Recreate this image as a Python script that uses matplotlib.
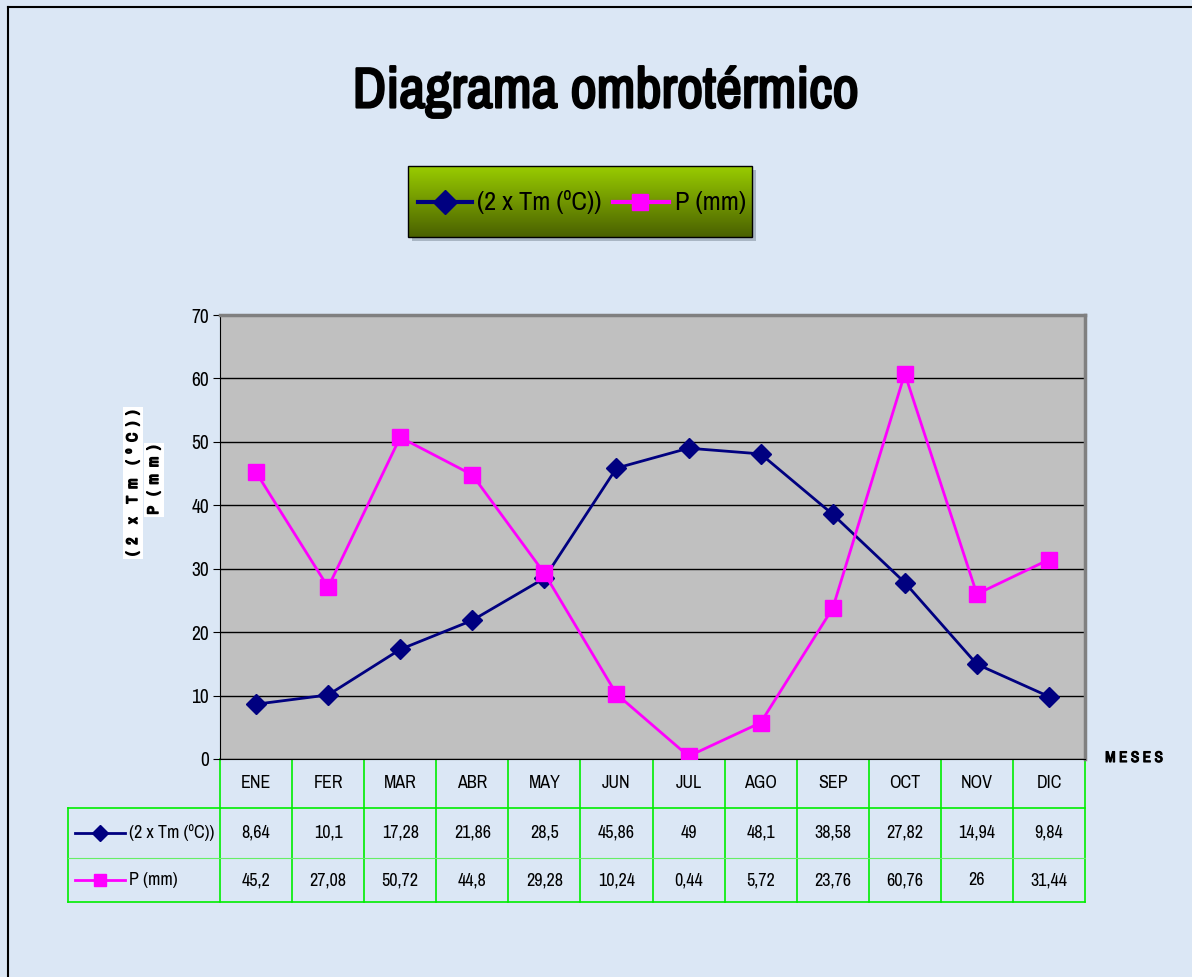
import numpy as np
import matplotlib
matplotlib.use("Agg")
import matplotlib.pyplot as plt
from matplotlib.patches import Rectangle
import matplotlib.patheffects as pe

plt.rcParams['font.family'] = ['Archivo Narrow', 'Liberation Sans', 'DejaVu Sans']

months = ["ENE", "FER", "MAR", "ABR", "MAY", "JUN", "JUL", "AGO", "SEP", "OCT", "NOV", "DIC"]
tm2 = [8.64, 10.1, 17.28, 21.86, 28.5, 45.86, 49, 48.1, 38.58, 27.82, 14.94, 9.84]
prec = [45.2, 27.08, 50.72, 44.8, 29.28, 10.24, 0.44, 5.72, 23.76, 60.76, 26, 31.44]
tm2_labels = ["8,64", "10,1", "17,28", "21,86", "28,5", "45,86", "49", "48,1", "38,58", "27,82", "14,94", "9,84"]
prec_labels = ["45,2", "27,08", "50,72", "44,8", "29,28", "10,24", "0,44", "5,72", "23,76", "60,76", "26", "31,44"]
yticks = [0, 10, 20, 30, 40, 50, 60, 70]
name_t = "(2 x Tm (ºC))"
name_p = "P (mm)"
ylab_t = "(  2    x    T  m    (  º  C  )  )"
ylab_p = "P   (  m  m  )"

W, H = 1192, 977
fig = plt.figure(figsize=(W / 100, H / 100), dpi=100)
fig.patch.set_facecolor('#dbe7f5')

ov = fig.add_axes([0, 0, 1, 1], zorder=0)
ov.axis('off')
ov.patch.set_alpha(0)

ov.plot([8, 8], [H, 7], color='black', lw=1.5)
ov.plot([8, W], [7, 7], color='black', lw=1.5)

def bold(lw):
    return [pe.withStroke(linewidth=lw, foreground='black')]

L, R, T, B = 220, 1085, 315, 759
ax = fig.add_axes([L / W, 1 - B / H, (R - L) / W, (B - T) / H], zorder=2)
ax.set_facecolor('#c0c0c0')
x = np.arange(len(months))
ax.set_xlim(-0.5, len(months) - 0.5)
ax.set_ylim(0, 70)
ax.set_yticks(yticks)
ax.set_yticklabels([str(v) for v in yticks], fontsize=14)
ax.set_xticks([])
ax.grid(axis='y', color='black', lw=1)
ax.set_axisbelow(True)
for s in ['top', 'right']:
    ax.spines[s].set_color('#808080')
    ax.spines[s].set_linewidth(2.5)
ax.spines['left'].set_color('black')
ax.spines['bottom'].set_color('black')
ax.tick_params(axis='y', direction='out', length=5, pad=3)
ax.plot(x, tm2, color='#000080', lw=2, marker='D', markersize=10, zorder=3)
ax.plot(x, prec, color='#ff00ff', lw=2, marker='s', markersize=11, zorder=3)

ov.text(133, 483, ylab_t, rotation=90, ha='center', va='center', fontsize=11,
        path_effects=bold(1.1), bbox=dict(facecolor='white', edgecolor='none', pad=2))
ov.text(154, 480, ylab_p, rotation=90, ha='center', va='center', fontsize=11,
        path_effects=bold(1.1), bbox=dict(facecolor='white', edgecolor='none', pad=2))

ov.text(1134, 758, "M E S E S", ha='center', va='center', fontsize=11, path_effects=bold(0.8))

fig.text(605 / W, 1 - 92 / H, "Diagrama ombrotérmico", ha='center', va='center',
         fontsize=41, path_effects=bold(1.7))

lx0, lx1, ly0, ly1 = 408, 752, 166, 237
grad = np.linspace(0, 1, 100)[:, None]
top = np.array([0.60, 0.80, 0.0])
bot = np.array([0.29, 0.38, 0.0])
img = top[None, None, :] * (1 - grad[:, :, None]) + bot[None, None, :] * grad[:, :, None]
ov.add_patch(Rectangle((lx0 + 4, ly0 + 4), lx1 - lx0, ly1 - ly0, facecolor='#a9b6c4', edgecolor='none', zorder=1))
ov.imshow(img, extent=[lx0, lx1, ly1, ly0], aspect='auto', zorder=2)
ov.add_patch(Rectangle((lx0, ly0), lx1 - lx0, ly1 - ly0, facecolor='none', edgecolor='black', lw=1, zorder=3))
ly = (ly0 + ly1) / 2
ov.plot([418, 472], [ly, ly], color='#000080', lw=3, zorder=4)
ov.plot([445], [ly], marker='D', color='#000080', markersize=12, zorder=4)
ov.text(477, ly + 1, name_t, ha='left', va='center', fontsize=19, zorder=4)
ov.plot([613, 669], [ly, ly], color='#ff00ff', lw=3, zorder=4)
ov.plot([640], [ly], marker='s', color='#ff00ff', markersize=12, zorder=4)
ov.text(675, ly + 1, name_p, ha='left', va='center', fontsize=19, zorder=4)

g = '#00ee00'
n = len(months)
cw = (R - L) / n
r0, r1, r2, r3 = 759, 808, 858, 902
tl = 68
for i in range(n + 1):
    xx = L + i * cw
    ov.plot([xx, xx], [r0, r3], color=g, lw=1.2)
ov.plot([tl, tl], [r1, r3], color=g, lw=1.2)
ov.plot([tl, R], [r1, r1], color=g, lw=1.2)
ov.plot([tl, R], [r2, r2], color='#66ee66', lw=0.8)
ov.plot([tl, R], [r3, r3], color=g, lw=1.2)
for i in range(n):
    cx = L + (i + 0.5) * cw
    ov.text(cx, (r0 + r1) / 2, months[i], ha='center', va='center', fontsize=13)
    ov.text(cx, (r1 + r2) / 2, tm2_labels[i], ha='center', va='center', fontsize=13)
    ov.text(cx, (r2 + r3) / 2, prec_labels[i], ha='center', va='center', fontsize=13)
y1 = (r1 + r2) / 2
y2 = (r2 + r3) / 2
ov.plot([75, 125], [y1, y1], color='#000080', lw=2)
ov.plot([100], [y1], marker='D', color='#000080', markersize=8)
ov.text(129, y1, name_t, ha='left', va='center', fontsize=13)
ov.plot([75, 125], [y2, y2], color='#ff00ff', lw=2)
ov.plot([100], [y2], marker='s', color='#ff00ff', markersize=8)
ov.text(129, y2, name_p, ha='left', va='center', fontsize=13)

ov.set_xlim(0, W)
ov.set_ylim(H, 0)
fig.savefig("out.png", dpi=100)
